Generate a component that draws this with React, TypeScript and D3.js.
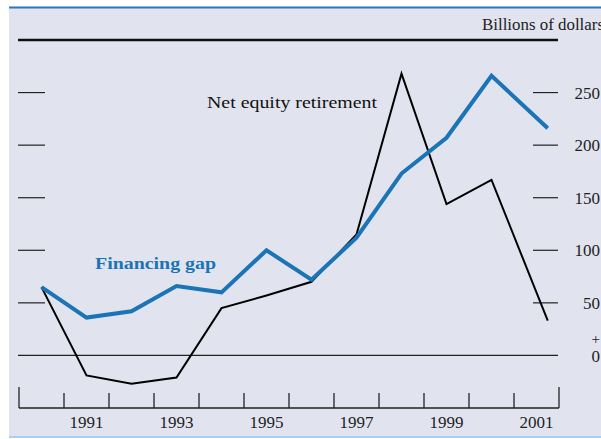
import React from "react";
import * as d3 from "d3";

const years = [1990, 1991, 1992, 1993, 1994, 1995, 1996, 1997, 1998, 1999, 2000, 2001.25];
const financingGap = [65, 36, 42, 66, 60, 100, 72, 112, 173, 207, 266, 216];
const netEquityRetirement = [65, -19, -27, -21, 45, 57, 70, 115, 268, 144, 167, 33];
const yTicks = [50, 100, 150, 200, 250];
const yearLabels = [1991, 1993, 1995, 1997, 1999, 2001];
const yearBoundaries = d3.range(1990, 2003);

const W = 601;
const H = 439;
const BG = "#e1e4ef";
const BLUE = "#1a74b5";

export default function App() {
  const x = d3.scaleLinear().domain([1990, 2002]).range([19, 559]);
  const y = d3.scaleLinear().domain([-50, 300]).range([408, 40]);
  const px = (yr: number) => x(yr + 0.5);

  const line = d3
    .line<number>()
    .x((_, i) => px(years[i]))
    .y((d) => y(d));

  const serif = "'Liberation Serif', 'Times New Roman', serif";

  return (
    <svg
      width={W}
      height={H}
      style={{ position: "absolute", left: 0, top: 0, display: "block" }}
    >
      <rect x={0} y={0} width={W} height={H} fill="#ffffff" />
      <rect x={9} y={7} width={W - 9} height={430} fill={BG} />
      <line x1={9} x2={W} y1={7.5} y2={7.5} stroke="#2a78bb" strokeWidth={2} />
      <line x1={9} x2={W} y1={437} y2={437} stroke="#a9d0ee" strokeWidth={2} />

      {/* top frame line (300) */}
      <line x1={18} x2={558} y1={y(300)} y2={y(300)} stroke="#111" strokeWidth={2.5} />
      {/* zero line */}
      <line x1={18} x2={558} y1={y(0)} y2={y(0)} stroke="#222" strokeWidth={1.2} />

      {/* y ticks left & right */}
      {yTicks.map((t) => (
        <g key={t}>
          <line x1={18} x2={45} y1={y(t)} y2={y(t)} stroke="#222" strokeWidth={1.2} />
          <line x1={533} x2={558} y1={y(t)} y2={y(t)} stroke="#222" strokeWidth={1.2} />
          <text
            x={600}
            y={y(t)}
            dy="0.35em"
            textAnchor="end"
            fontFamily={serif}
            fontSize={17}
            fill="#222"
          >
            {t}
          </text>
        </g>
      ))}
      <text x={600} y={y(0) - 17} dy="0.35em" textAnchor="end" fontFamily={serif} fontSize={15} fill="#222">
        +
      </text>
      <text x={600} y={y(0) + 1} dy="0.35em" textAnchor="end" fontFamily={serif} fontSize={17} fill="#222">
        0
      </text>

      <text x={482} y={24} dy="0.35em" fontFamily={serif} fontSize={16} fill="#222" textLength={122} lengthAdjust="spacingAndGlyphs">
        Billions of dollars
      </text>

      {/* x axis */}
      <line x1={x(1990)} x2={x(2002)} y1={y(-50)} y2={y(-50)} stroke="#222" strokeWidth={1.5} />
      {yearBoundaries.map((b, i) => {
        const end = i === 0 || i === yearBoundaries.length - 1;
        return (
          <line
            key={b}
            x1={x(b)}
            x2={x(b)}
            y1={y(-50)}
            y2={y(-50) - (end ? 21 : 15)}
            stroke="#222"
            strokeWidth={1.3}
          />
        );
      })}
      {yearLabels.map((yr) => (
        <text
          key={yr}
          x={px(yr)}
          y={428}
          textAnchor="middle"
          fontFamily={serif}
          fontSize={17}
          fill="#222"
        >
          {yr}
        </text>
      ))}

      {/* series */}
      <path d={line(netEquityRetirement) || ""} fill="none" stroke="#000" strokeWidth={2} strokeLinejoin="miter" />
      <path d={line(financingGap) || ""} fill="none" stroke={BLUE} strokeWidth={4} strokeLinejoin="miter" />

      <text x={207} y={102} dy="0.35em" fontFamily={serif} fontSize={17} fill="#111" textLength={170} lengthAdjust="spacingAndGlyphs">
        Net equity retirement
      </text>
      <text x={95} y={263} dy="0.35em" fontFamily={serif} fontSize={16} fontWeight="bold" fill={BLUE} textLength={121} lengthAdjust="spacingAndGlyphs">
        Financing gap
      </text>
    </svg>
  );
}
